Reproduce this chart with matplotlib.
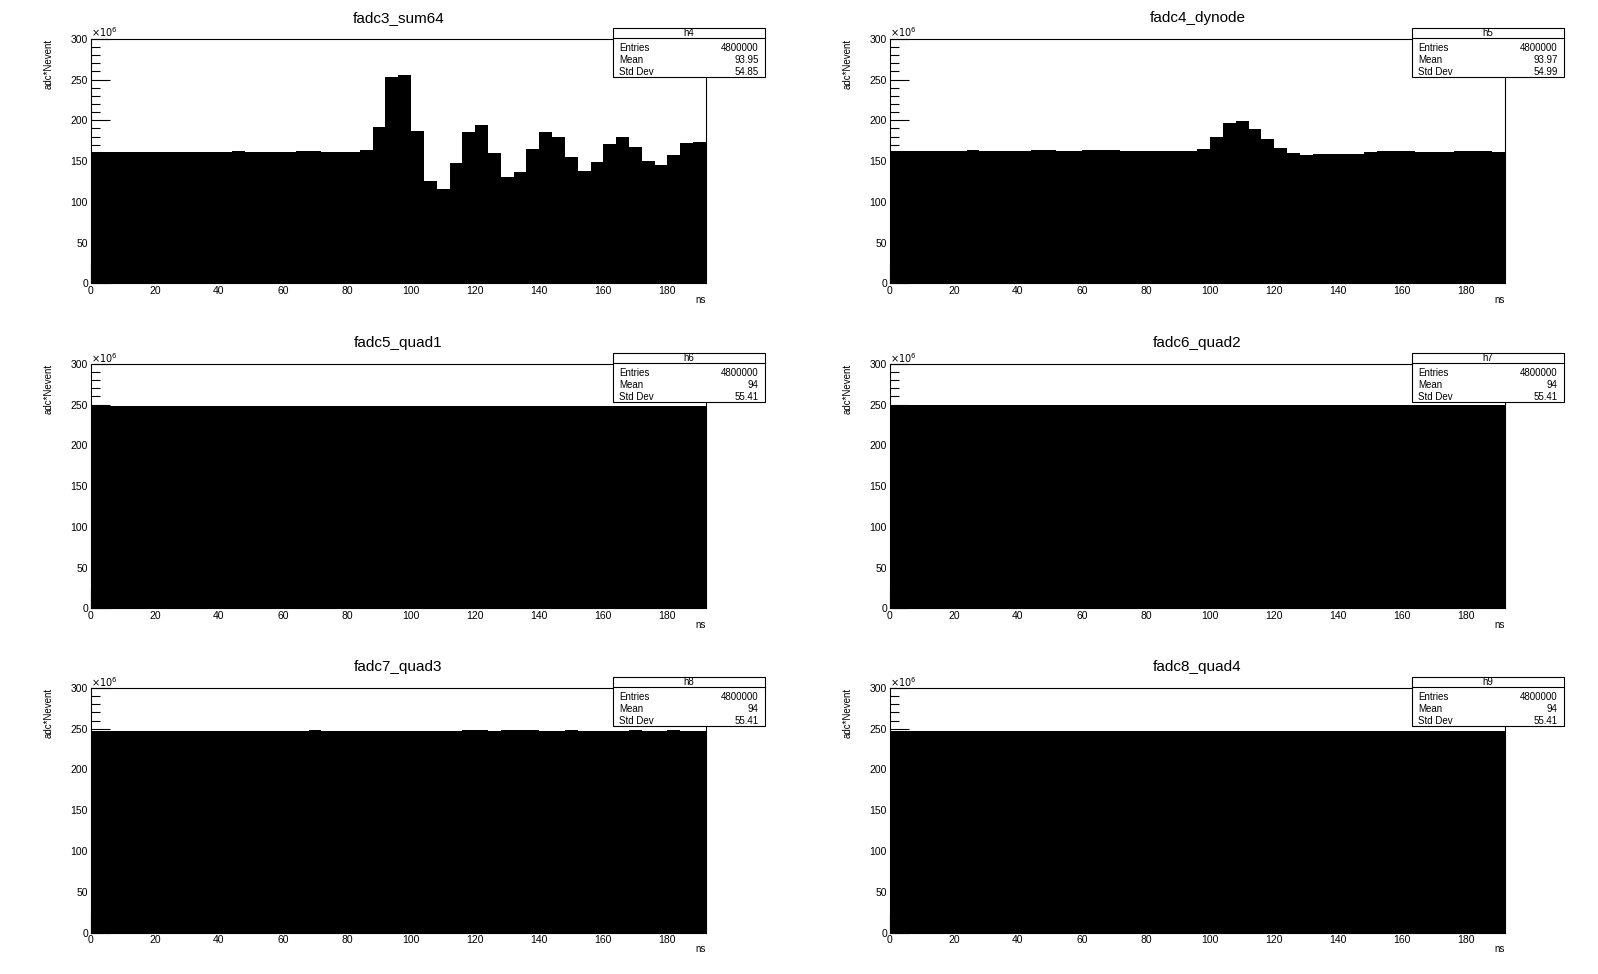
import matplotlib
matplotlib.use('Agg')
import matplotlib.pyplot as plt
import numpy as np
from matplotlib.patches import Rectangle
from matplotlib.ticker import MultipleLocator

plt.rcParams['font.family'] = ['Liberation Sans', 'DejaVu Sans']

# bin edges, 4 ns bins from 0 to 192 ns
edges = np.arange(0, 193, 4)

# bin contents, units of 1e6 adc*Nevent
sum64 = [161, 161, 161, 161, 161, 161, 161, 161, 161, 161, 161, 162.5,
         161, 161, 161, 161, 162.5, 162.5, 161, 161, 161, 163.5, 192, 253,
         255, 187, 125.5, 115.5, 147, 186, 194.5, 160, 130.5, 136.5, 165, 186,
         179.5, 155, 137.5, 149, 171, 179.5, 167.5, 150, 145, 157.5, 172, 173.5]
dynode = [162.3, 162.3, 162.3, 162.3, 162.3, 162.3, 163.5, 162.3, 162.3, 162.3, 162.3, 163.5,
          163.5, 162.3, 162.3, 163.5, 163.5, 163.5, 162.3, 162.3, 162.3, 162.3, 162.3, 162.3,
          164.8, 179.6, 196.9, 199.3, 189.5, 177.1, 166, 160, 157.4, 158.6, 158.6, 158.6,
          158.6, 161, 162.3, 162.3, 162.3, 161, 161, 161, 162.3, 162.3, 162.3, 161]
quad1 = [248, 248, 248, 248, 248, 248, 248, 248, 248, 248, 248, 248,
         248, 248, 248, 248, 248, 248, 248, 248, 248, 248, 248, 248,
         248, 248, 248, 248, 248, 248, 248, 248, 248, 248, 248, 248,
         248, 248, 248, 248, 248, 248, 248, 248, 248, 248, 248, 248]
quad2 = [249.6, 249.6, 249.6, 249.6, 249.6, 249.6, 249.6, 249.6, 249.6, 249.6, 249.6, 249.6,
         249.6, 249.6, 249.6, 249.6, 249.6, 249.6, 249.6, 249.6, 249.6, 249.6, 249.6, 249.6,
         249.6, 249.6, 249.6, 249.6, 249.6, 249.6, 249.6, 249.6, 249.6, 249.6, 249.6, 249.6,
         249.6, 249.6, 249.6, 249.6, 249.6, 249.6, 249.6, 249.6, 249.6, 249.6, 249.6, 249.6]
quad3 = [246.6, 246.6, 246.6, 246.6, 246.6, 246.6, 246.6, 246.6, 246.6, 246.6, 246.6, 246.6,
         246.6, 246.6, 246.6, 246.6, 246.6, 248, 246.6, 246.6, 246.6, 246.6, 246.6, 246.6,
         246.6, 246.6, 246.6, 246.6, 246.6, 248, 248, 246.6, 248, 248, 248, 246.6,
         246.6, 248, 246.6, 246.6, 246.6, 246.6, 248, 246.6, 246.6, 248, 246.6, 246.6]
quad4 = [247, 247, 247, 247, 247, 247, 247, 247, 247, 247, 247, 247,
         247, 247, 247, 247, 247, 247, 247, 247, 247, 247, 247, 247,
         247, 247, 247, 247, 247, 247, 247, 247, 247, 247, 247, 247,
         247, 247, 247, 247, 247, 247, 247, 247, 247, 247, 247, 247]

titles = ['fadc3_sum64', 'fadc4_dynode', 'fadc5_quad1', 'fadc6_quad2', 'fadc7_quad3', 'fadc8_quad4']
hnames = ['h4', 'h5', 'h6', 'h7', 'h8', 'h9']
entries = ['4800000'] * 6
means = ['93.95', '93.97', '94', '94', '94', '94']
stds = ['54.85', '54.99', '55.41', '55.41', '55.41', '55.41']
series = [sum64, dynode, quad1, quad2, quad3, quad4]

fig = plt.figure(figsize=(15.98, 9.74), dpi=100)

lefts = [0.0568, 0.5568]
bottoms = [0.7091, 0.3754, 0.0426]
w, h = 0.3849, 0.2511

for i in range(6):
    ax = fig.add_axes([lefts[i % 2], bottoms[i // 2], w, h])
    ax.stairs(series[i], edges, fill=True, color='black', lw=0)
    ax.set_xlim(0, 192)
    ax.set_ylim(0, 300)
    ax.xaxis.set_major_locator(MultipleLocator(20))
    ax.yaxis.set_major_locator(MultipleLocator(50))
    ax.yaxis.set_minor_locator(MultipleLocator(10))
    ax.tick_params(which='major', direction='in', length=13.7, width=0.8,
                   labelsize=7.5, pad=2)
    ax.tick_params(which='minor', direction='in', length=6.7, width=0.8)
    for s in ax.spines.values():
        s.set_linewidth(0.8)

    ax.set_title(titles[i], fontsize=11, pad=12)
    ax.text(-0.068, 1.0, 'adc*Nevent', rotation=90, ha='center', va='top',
            fontsize=7, transform=ax.transAxes)
    ax.text(1.0, -0.067, 'ns', ha='right', va='center', fontsize=7,
            transform=ax.transAxes)
    ax.text(0.0, 0.997, r'$\times10^{6}$', ha='left', va='bottom', fontsize=7,
            transform=ax.transAxes)

    # stats box
    bx0, bx1, by0, by1, sep = 0.849, 1.097, 0.844, 1.045, 1.002
    ax.add_patch(Rectangle((bx0, by0), bx1 - bx0, by1 - by0, transform=ax.transAxes,
                           facecolor='white', edgecolor='black', lw=0.8,
                           clip_on=False, zorder=5))
    ax.plot([bx0, bx1], [sep, sep], color='black', lw=0.8, transform=ax.transAxes,
            clip_on=False, zorder=6)
    ax.text((bx0 + bx1) / 2, (sep + by1) / 2, hnames[i], ha='center', va='center',
            fontsize=7, transform=ax.transAxes, zorder=7)
    rows = [('Entries', entries[i]), ('Mean', means[i]), ('Std Dev', stds[i])]
    row_y = [0.964, 0.914, 0.866]
    for k, (lab, val) in enumerate(rows):
        ax.text(bx0 + 0.010, row_y[k], lab, ha='left', va='center', fontsize=7,
                transform=ax.transAxes, zorder=7)
        ax.text(bx1 - 0.011, row_y[k], val, ha='right', va='center', fontsize=7,
                transform=ax.transAxes, zorder=7)

fig.savefig('out.png', dpi=100)
